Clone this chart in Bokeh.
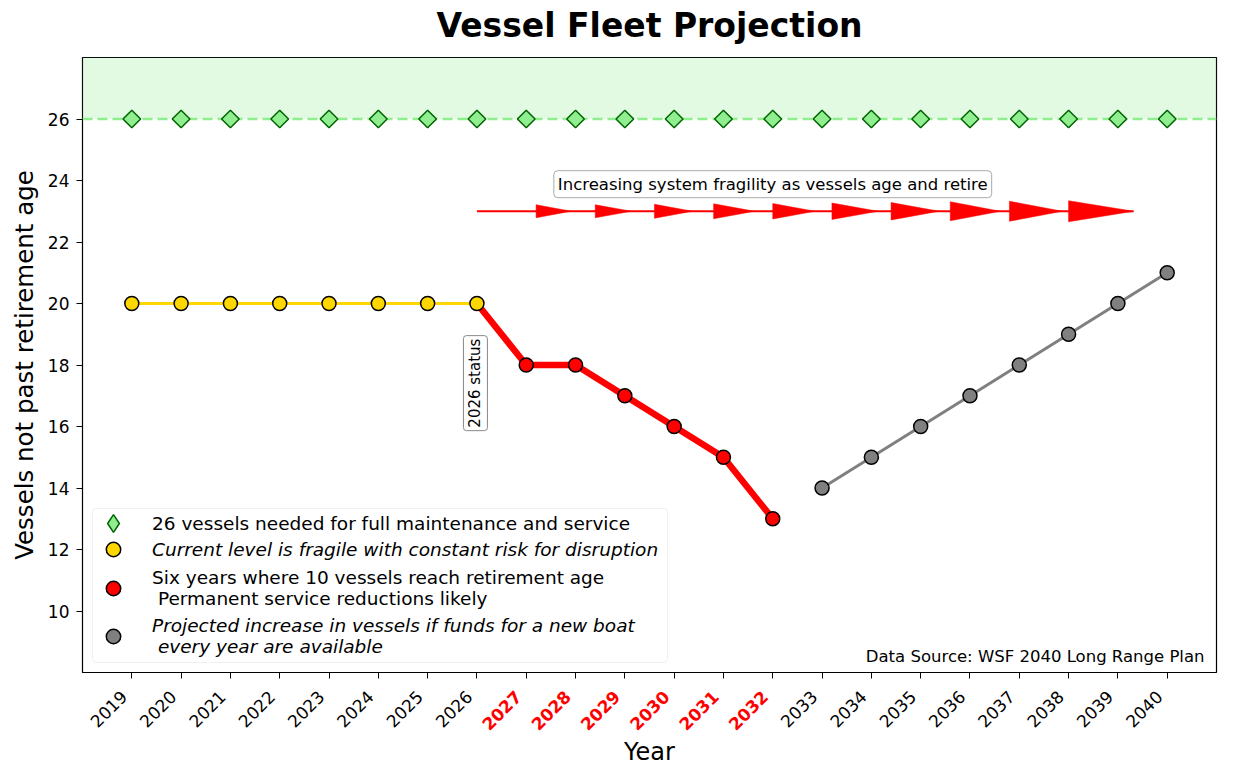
import math
from bokeh.plotting import figure
from bokeh.layouts import column
from bokeh.models import (Range1d, FixedTicker, Label, ColumnDataSource,
                          BoxAnnotation, Legend, LegendItem, Span)
from bokeh.core.properties import value
from bokeh.embed import file_html
from bokeh.resources import INLINE

# ---------------- data ----------------
years = [2019, 2020, 2021, 2022, 2023, 2024, 2025, 2026, 2027, 2028, 2029,
         2030, 2031, 2032, 2033, 2034, 2035, 2036, 2037, 2038, 2039, 2040]
target_vals = [26, 26, 26, 26, 26, 26, 26, 26, 26, 26, 26,
               26, 26, 26, 26, 26, 26, 26, 26, 26, 26, 26]
current_years = [2019, 2020, 2021, 2022, 2023, 2024, 2025, 2026]
current_vals = [20, 20, 20, 20, 20, 20, 20, 20]
decline_years = [2026, 2027, 2028, 2029, 2030, 2031, 2032]
decline_vals = [20, 18, 18, 17, 16, 15, 13]
projected_years = [2033, 2034, 2035, 2036, 2037, 2038, 2039, 2040]
projected_vals = [14, 15, 16, 17, 18, 19, 20, 21]
highlight_years = [2027, 2028, 2029, 2030, 2031, 2032]
y_ticks = [10, 12, 14, 16, 18, 20, 22, 24, 26]

# fragility arrow (annotation)
arrow_y = 23
arrow_start = 2026
arrow_head_bases = [2027.2, 2028.4, 2029.6, 2030.8, 2032.0, 2033.2, 2034.4, 2035.6, 2036.8, 2038.0]
arrow_head_len_px = [35, 36, 38, 41, 42, 46, 48, 50, 53, 65]
arrow_head_w_px = [13, 13, 14, 15, 15.5, 16.5, 17.5, 19, 20, 21]

FONT = "DejaVu Sans"

# ---------------- layout ----------------
W, H_TOTAL = 1219, 767
LEFT, RIGHT = 82, 3
TS = 50                      # title strip height
T1 = 7                       # main figure top border
FH = 615                     # frame height
B1 = 12                      # room under the frame for the ticks
H = T1 + FH + B1             # main figure height
QH = H_TOTAL - TS - H        # strip with the year labels
FW = W - LEFT - RIGHT
X0, X1 = 2018, 2041
Y0, Y1 = 8, 28
xpp = (X1 - X0) / FW
ypp = (Y1 - Y0) / FH


def strip(height, x_range):
    f = figure(width=W, height=height, x_range=x_range, y_range=Range1d(0, height),
               min_border_left=LEFT, min_border_right=RIGHT, min_border_top=0,
               min_border_bottom=0, output_backend="svg", toolbar_location=None)
    f.axis.visible = False
    f.grid.visible = False
    f.outline_line_color = None
    return f


p = figure(width=W, height=H, x_range=Range1d(X0, X1), y_range=Range1d(Y0, Y1),
           min_border_left=LEFT, min_border_right=RIGHT, min_border_top=T1,
           min_border_bottom=B1, output_backend="svg", toolbar_location=None)

p.xgrid.visible = False
p.ygrid.visible = False
p.outline_line_color = "black"
p.outline_line_width = 1.2
p.outline_line_alpha = 1.0

# axes
p.yaxis.ticker = FixedTicker(ticks=y_ticks)
p.yaxis.axis_label = "Vessels not past retirement age"
p.yaxis.major_label_text_font_size = "17px"
p.yaxis.major_label_text_font = FONT
p.yaxis.major_label_text_color = "black"
p.yaxis.major_label_standoff = 7
p.yaxis.axis_label_standoff = 6
p.yaxis.axis_label_text_font = FONT
p.yaxis.axis_label_text_font_size = "24.5px"
p.yaxis.axis_label_text_font_style = "normal"
p.yaxis.axis_label_text_color = "black"
p.yaxis.major_tick_in = 0
p.yaxis.major_tick_out = 6
p.yaxis.minor_tick_line_color = None
p.yaxis.axis_line_color = None

# x axis: only the tick marks (labels are drawn in the strip below)
p.xaxis.ticker = FixedTicker(ticks=[], minor_ticks=years)
p.xaxis.minor_tick_in = 0
p.xaxis.minor_tick_out = 6
p.xaxis.minor_tick_line_color = "black"
p.xaxis.minor_tick_line_width = 1
p.xaxis.major_tick_in = 0
p.xaxis.major_tick_out = 6
p.xaxis.major_label_standoff = 0
p.xaxis.axis_line_color = None

# green zone
p.add_layout(BoxAnnotation(bottom=26, top=Y1, fill_color="lightgreen", fill_alpha=0.27,
                           line_color=None, level="underlay"))
p.add_layout(Span(location=26, dimension="width", line_color="lightgreen", line_width=2.5,
                  line_dash="10 5", level="underlay"))

# arrow
tip_last = arrow_head_bases[-1] + arrow_head_len_px[-1] * xpp
p.line([arrow_start, tip_last], [arrow_y, arrow_y], line_color="red", line_width=2)
hx, hy = [], []
for b, l, w in zip(arrow_head_bases, arrow_head_len_px, arrow_head_w_px):
    hx.append([b, b + l * xpp, b])
    hy.append([arrow_y + w / 2 * ypp, arrow_y, arrow_y - w / 2 * ypp])
p.patches(hx, hy, fill_color="red", line_color="red", line_width=0.5)

# lines
p.line(current_years, current_vals, line_color="gold", line_width=3)
p.line(decline_years, decline_vals, line_color="red", line_width=6.5)
p.line(projected_years, projected_vals, line_color="gray", line_width=3)

# markers
r_target_leg = p.scatter(years, target_vals, marker="diamond", size=16,
                         fill_color="lightgreen", line_color="darkgreen", line_width=1.5)
p.scatter(years, target_vals, marker="square", angle=math.pi / 4, size=12.5,
          fill_color="lightgreen", line_color="darkgreen", line_width=1.5)
r_current = p.scatter(current_years, current_vals, marker="circle", size=14,
                      fill_color="gold", line_color="black", line_width=1.5)
r_decline = p.scatter(decline_years[1:], decline_vals[1:], marker="circle", size=14,
                      fill_color="red", line_color="black", line_width=1.5)
r_proj = p.scatter(projected_years, projected_vals, marker="circle", size=14,
                   fill_color="gray", line_color="black", line_width=1.5)

# annotations
p.add_layout(Label(x=2032.0, y=23.88, text="Increasing system fragility as vessels age and retire",
                   text_align="center", text_baseline="middle", text_font=FONT,
                   text_font_size="16.5px", text_color="black", background_fill_color="white",
                   border_line_color="#aaaaaa", border_line_width=1, padding=4,
                   border_radius=4))
p.add_layout(Label(x=2026 - 1.5 * xpp, y=17.41, text="2026 status", angle=math.pi / 2,
                   text_align="center", text_baseline="middle", text_font=FONT,
                   text_font_size="15px", text_color="black", background_fill_color="white",
                   border_line_color="#888888", border_line_width=1, padding=3,
                   border_radius=3))
p.add_layout(Label(x=X1 - 12 * xpp, y=Y0 + 16 * ypp, text="Data Source: WSF 2040 Long Range Plan",
                   text_align="right", text_baseline="middle", text_font=FONT,
                   text_font_size="16.5px", text_color="black"))

# legend box
p.add_layout(BoxAnnotation(left=10, right=585, bottom=10, top=164, left_units="screen",
                           right_units="screen", bottom_units="screen", top_units="screen",
                           fill_color="white", fill_alpha=0.85, line_color="#cccccc",
                           line_width=1, border_radius=4))

legend_rows = [
    ("26 vessels needed for full maintenance and service", r_target_leg, "normal", 149, 44),
    ("Current level is fragile with constant risk for disruption", r_current, "italic", 123, 36),
    ("Six years where 10 vessels reach retirement age\n Permanent service reductions likely",
     r_decline, "normal", 85, 36),
    ("Projected increase in vessels if funds for a new boat\n every year are available",
     r_proj, "italic", 37, 36),
]
for text, rend, style, cy, gsize in legend_rows:
    n_lines = text.count("\n") + 1
    item_h = max(gsize, n_lines * 22)
    lg = Legend(items=[LegendItem(label=text, renderers=[rend])],
                location=(int(31 - gsize // 2), int(cy - item_h // 2)),
                background_fill_alpha=0, border_line_color=None, padding=0, margin=0,
                spacing=0, glyph_width=int(gsize), glyph_height=int(gsize),
                label_standoff=int(70 - (31 + gsize // 2)),
                label_text_font=FONT, label_text_font_size="18.5px",
                label_text_color="black", label_text_font_style=style)
    p.add_layout(lg)

# ---------------- title strip ----------------
t = strip(TS, p.x_range)
t.add_layout(Label(x=(X0 + X1) / 2, y=TS - 25, text="Vessel Fleet Projection",
                   text_align="center", text_baseline="middle", text_font=FONT,
                   text_font_size="33px", text_font_style="bold", text_color="black"))

# ---------------- strip with year labels and the x-axis title ----------------
q = strip(QH, p.x_range)
lab_y = QH - (21 - B1)
normal_years = [y for y in years if y not in highlight_years]
src_n = ColumnDataSource(dict(x=normal_years, y=[lab_y] * len(normal_years),
                              t=[str(y) for y in normal_years]))
src_h = ColumnDataSource(dict(x=highlight_years, y=[lab_y] * len(highlight_years),
                              t=[str(y) for y in highlight_years]))
q.text(x="x", y="y", text="t", source=src_n, angle=math.pi / 4, x_offset=-8,
       text_align="right", text_baseline="middle", text_font=value(FONT),
       text_font_size=value("17px"), text_color="black")
q.text(x="x", y="y", text="t", source=src_h, angle=math.pi / 4, x_offset=-8,
       text_align="right", text_baseline="middle", text_font=value(FONT),
       text_font_size=value("17px"), text_color="red", text_font_style="bold")

q.add_layout(Label(x=(X0 + X1) / 2, y=16, text="Year", text_align="center",
                   text_baseline="middle", text_font=FONT, text_font_size="24px",
                   text_color="black"))

layout = column(t, p, q, spacing=0)
open("out.html", "w").write(file_html(layout, INLINE))
